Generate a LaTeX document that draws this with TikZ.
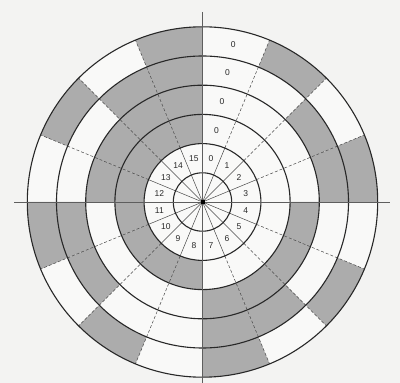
\documentclass[tikz,border=0pt]{standalone}
\usepackage{fontspec}
\setmainfont{Liberation Sans}
\definecolor{bgc}{RGB}{243,243,242}
\definecolor{diskc}{RGB}{249,249,248}
\definecolor{shadec}{RGB}{172,172,172}
\definecolor{linec}{RGB}{40,40,40}
\tikzset{
  trackfill/.style={fill=shadec},
  ringline/.style={draw=linec, line width=1.1pt},
  spoke/.style={draw=linec!85, line width=0.5pt},
  outerspoke/.style={draw=linec!85, line width=0.5pt, densely dashed},
  axisline/.style={draw=linec!75, line width=0.6pt},
  lab/.style={font=\fontsize{8.5}{9}\selectfont, text=linec, inner sep=0pt}
}
\begin{document}
\begin{tikzpicture}[x=1pt,y=1pt]
\useasboundingbox (0,0) rectangle (400,383);
\fill[bgc] (0,0) rectangle (400,383);
\begin{scope}[shift={(202.5,181)}]
  \fill[diskc] (0,0) circle[radius=175.2];
  % shaded track segments (binary code, MSB innermost)
  \foreach \k in {0,...,15}{
    \foreach \j in {0,...,3}{
      \pgfmathtruncatemacro\b{mod(floor(\k/2^(3-\j)),2)}
      \ifnum\b=1
        \pgfmathsetmacro\aa{90-22.5*\k}
        \pgfmathsetmacro\ab{90-22.5*(\k+1)}
        \pgfmathsetmacro\ri{58.4+29.2*\j}
        \pgfmathsetmacro\ro{\ri+29.2}
        \fill[trackfill] (\aa:\ri) -- (\aa:\ro) arc[start angle=\aa,end angle=\ab,radius=\ro] -- (\ab:\ri) arc[start angle=\ab,end angle=\aa,radius=\ri] -- cycle;
      \fi
    }
  }
  % spokes
  \foreach \k in {0,...,15}{
    \pgfmathsetmacro\aa{90-22.5*\k}
    \draw[spoke] (0,0) -- (\aa:58.4);
    \draw[outerspoke] (\aa:58.4) -- (\aa:175.2);
  }
  % circles
  \foreach \r in {29.2,58.4,87.6,116.8,146,175.2}{
    \draw[ringline] (0,0) circle[radius=\r];
  }
  % axes
  \draw[axisline] (-188.5,0) -- (187.5,0);
  \draw[axisline] (0,190) -- (0,-181);
  % centre
  \fill[black] (-2,-2) rectangle (2,2);
  % sector numbers
  \foreach \k in {0,...,15}{
    \pgfmathsetmacro\am{90-22.5*\k-11.25}
    \node[lab] (n\k) at (\am:44) {\k};
  }
  % zeros on the tracks
  \foreach \j in {0,...,3}{
    \pgfmathsetmacro\rm{73+29.2*\j}
    \node[lab] (z\j) at (79:\rm) {0};
  }
\end{scope}
\end{tikzpicture}
\end{document}
